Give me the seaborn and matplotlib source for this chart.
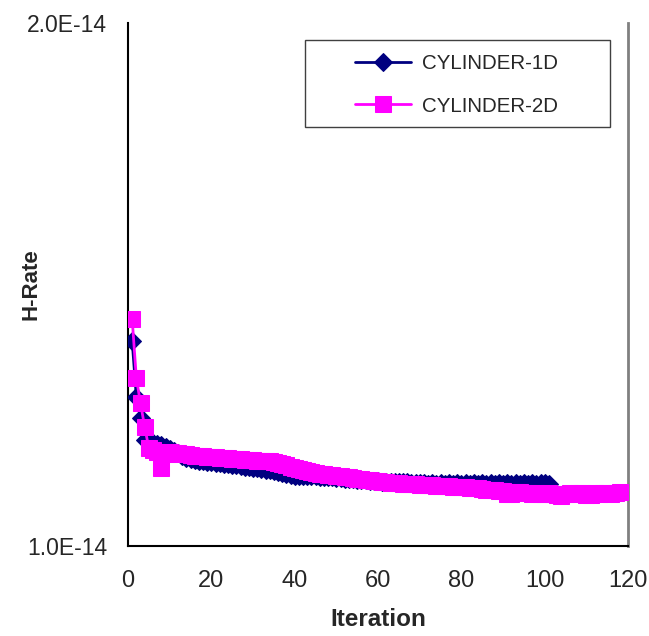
import matplotlib
matplotlib.use("Agg")
import matplotlib.pyplot as plt
from matplotlib.ticker import FixedLocator, MultipleLocator, FuncFormatter
from matplotlib.patches import Rectangle
import seaborn as sns
import pandas as pd
import numpy as np

# ---- data (values in units of 1E-14) ----
iter_1d = list(range(1, 102))
rate_1d = [1.392, 1.285, 1.245, 1.203, 1.197, 1.196, 1.195, 1.193, 1.190, 1.186,
           1.182, 1.178, 1.173, 1.169, 1.166, 1.164, 1.163, 1.162, 1.161, 1.160,
           1.159, 1.158, 1.157, 1.156, 1.155, 1.154, 1.153, 1.152, 1.151, 1.150,
           1.149, 1.147, 1.146, 1.145, 1.143, 1.141, 1.139, 1.137, 1.135, 1.134,
           1.134, 1.134, 1.134, 1.133, 1.133, 1.132, 1.132, 1.131, 1.131, 1.130,
           1.130, 1.129, 1.129, 1.128, 1.127, 1.127, 1.126, 1.125, 1.125, 1.124,
           1.123, 1.123, 1.123, 1.122, 1.122, 1.122, 1.122, 1.121, 1.121, 1.121,
           1.121, 1.119, 1.121, 1.119, 1.121, 1.119, 1.121, 1.119, 1.121, 1.119,
           1.121, 1.119, 1.121, 1.119, 1.121, 1.119, 1.121, 1.119, 1.121, 1.119,
           1.121, 1.119, 1.121, 1.119, 1.121, 1.119, 1.121, 1.119, 1.121, 1.120,
           1.119]

iter_2d = list(range(1, 119))
rate_2d = [1.434, 1.321, 1.273, 1.228, 1.187, 1.183, 1.180, 1.149, 1.176, 1.179,
           1.178, 1.177, 1.176, 1.175, 1.174, 1.173, 1.173, 1.172, 1.171, 1.171,
           1.170, 1.169, 1.169, 1.168, 1.167, 1.167, 1.166, 1.165, 1.165, 1.164,
           1.163, 1.163, 1.163, 1.162, 1.160, 1.158, 1.156, 1.154, 1.151, 1.149,
           1.147, 1.145, 1.143, 1.141, 1.139, 1.138, 1.137, 1.136, 1.135, 1.134,
           1.133, 1.132, 1.131, 1.130, 1.129, 1.128, 1.127, 1.126, 1.125, 1.124,
           1.123, 1.122, 1.121, 1.121, 1.120, 1.119, 1.119, 1.118, 1.118, 1.117,
           1.117, 1.116, 1.116, 1.115, 1.115, 1.114, 1.114, 1.113, 1.113, 1.112,
           1.112, 1.111, 1.110, 1.110, 1.109, 1.108, 1.108, 1.107, 1.106, 1.105,
           1.100, 1.099, 1.104, 1.103, 1.101, 1.102, 1.100, 1.101, 1.099, 1.100,
           1.101, 1.100, 1.097, 1.096, 1.100, 1.101, 1.100, 1.102, 1.101, 1.098,
           1.097, 1.101, 1.100, 1.102, 1.101, 1.100, 1.101, 1.103]

series_names = ["CYLINDER-1D", "CYLINDER-2D"]
x_label = "Iteration"
y_label = "H-Rate"
x_ticks = [0, 20, 40, 60, 80, 100, 120]
y_ticks = [1.0e-14, 2.0e-14]

sns.set_style("white")
plt.rcParams['font.family'] = ['Liberation Sans', 'DejaVu Sans']

fig = plt.figure(figsize=(6.49, 6.36), dpi=100)
ax = fig.add_axes([128 / 649, 1 - 546 / 636, 500 / 649, 523 / 636])

df1 = pd.DataFrame({"Iteration": iter_1d, "rate": np.array(rate_1d) * 1e-14})
df2 = pd.DataFrame({"Iteration": iter_2d, "rate": np.array(rate_2d) * 1e-14})

sns.lineplot(data=df1, x="Iteration", y="rate", ax=ax, color="#000080",
             marker="D", markersize=9, markeredgecolor="#000080",
             linewidth=2, label=series_names[0], zorder=3)
sns.lineplot(data=df2, x="Iteration", y="rate", ax=ax, color="#FF00FF",
             marker="s", markersize=11, markeredgecolor="#FF00FF",
             linewidth=2, label=series_names[1], zorder=4)

ax.set_xlim(0, 120)
ax.set_ylim(1.0e-14, 2.0e-14)
ax.xaxis.set_major_locator(FixedLocator(x_ticks))
ax.xaxis.set_minor_locator(MultipleLocator(5))
ax.yaxis.set_major_locator(FixedLocator(y_ticks))
ax.yaxis.set_minor_locator(MultipleLocator(0.2e-14))
ax.yaxis.set_major_formatter(FuncFormatter(lambda v, p: "%.1fE-14" % (v / 1e-14)))

ax.tick_params(axis="both", which="major", direction="inout", length=14,
               width=1.2, color="black")
ax.tick_params(axis="x", which="major", labelsize=17, pad=10)
ax.tick_params(axis="y", which="major", labelsize=16.5, pad=8)
ax.tick_params(axis="both", which="minor", direction="in", length=6,
               width=1.0, color="black")

for s in ["left", "bottom"]:
    ax.spines[s].set_color("black")
    ax.spines[s].set_linewidth(1.5)
ax.spines["top"].set_visible(False)
ax.spines["right"].set_color("#808080")
ax.spines["right"].set_linewidth(2)

ax.set_xlabel(x_label, fontsize=17.5, fontweight="bold")
ax.xaxis.set_label_coords(0.5, -(608 - 546) / 523)
ax.set_ylabel(y_label, fontsize=16, fontweight="bold")
ax.yaxis.set_label_coords(-0.174, 0.5)

# legend box
ax.add_patch(Rectangle(((305 - 128) / 500, (546 - 127) / 523), 0.61, 87 / 523,
                       transform=ax.transAxes, facecolor="white",
                       edgecolor="#404040", linewidth=1.0, zorder=5,
                       clip_on=False))
leg = ax.legend(loc="upper left", bbox_to_anchor=((355 - 128) / 500, (546 - 54) / 523),
                fontsize=14.8, frameon=False, handlelength=2.7,
                handletextpad=0.55, borderpad=0, labelspacing=1.15,
                borderaxespad=0)
leg.set_zorder(6)

fig.savefig("out.png", dpi=100)
